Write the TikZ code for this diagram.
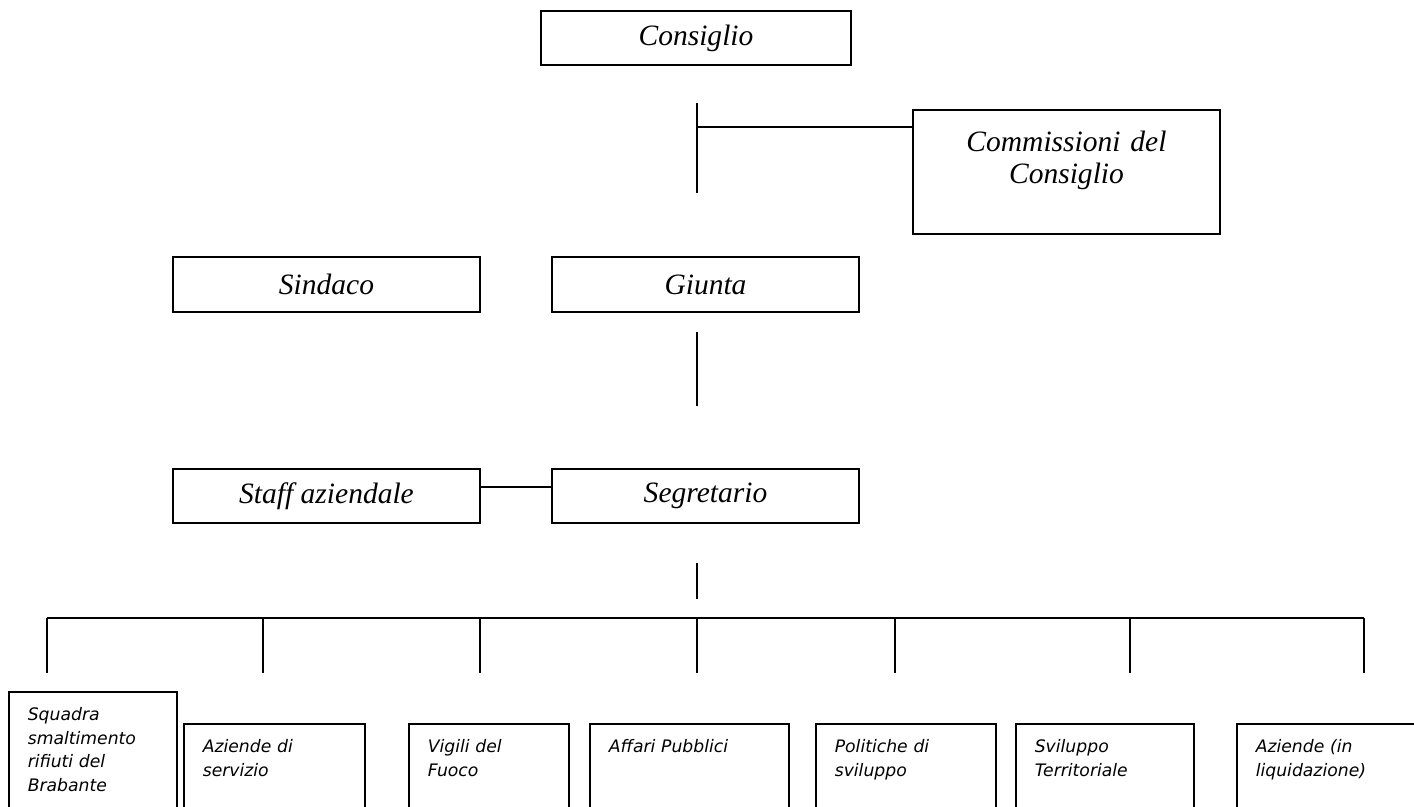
\documentclass[tikz,border=0pt]{standalone}
\usepackage{fontspec}
\setmainfont{Liberation Serif}
\newfontfamily\unitface{DejaVu Sans}
\newcommand\orgfont{\fontsize{16.8pt}{18.1pt}\selectfont\itshape}
\newcommand\unitfont{\unitface\fontsize{9.8pt}{13.4pt}\selectfont\itshape}
\tikzset{
  link/.style={line width=0.85pt},
  orgbox/.style={draw, line width=0.9pt, inner sep=0pt, minimum width=6.14cm,
    minimum height=1.1cm, font=\orgfont},
  unitbox/.style={draw, line width=0.9pt, anchor=north west, inner xsep=0.38cm,
    inner ysep=0pt, align=left, font=\unitfont, text height=0.58cm, text depth=2cm},
}
\begin{document}
\begin{tikzpicture}[x=0.02cm, y=-0.02cm]
      \useasboundingbox (0,0) rectangle (1414,807);
      % organi
      \node[orgbox, minimum width=6.2cm, minimum height=1.08cm] (consiglio) at (696,38) {Consiglio};
      \node[draw, line width=0.9pt, anchor=north, inner sep=0pt, text width=6.14cm,
        align=center, text height=0.84cm, text depth=1.64cm, font=\orgfont]
        (commissioni) at (1066.5,109) {Commissioni del\\Consiglio};
      \node[orgbox] (sindaco) at (326.5,284.5) {Sindaco};
      \node[orgbox] (giunta) at (705.5,284.5) {Giunta};
      \node[orgbox, minimum height=1.08cm] (staff) at (326.5,496) {Staff aziendale};
      \node[orgbox, minimum height=1.08cm] (segretario) at (705.5,496) {Segretario};
      % settori
      \node[unitbox, text width=2.6cm] (squadra) at (8,691) {Squadra\\smaltimento\\rifiuti del\\Brabante};
      \node[unitbox, text width=2.86cm] (servizio) at (183,723) {Aziende di\\servizio};
      \node[unitbox, text width=2.44cm] (vigili) at (408,723) {Vigili del\\Fuoco};
      \node[unitbox, text width=3.22cm] (affari) at (589,723) {Affari Pubblici};
      \node[unitbox, text width=2.84cm] (politiche) at (815,723) {Politiche di\\sviluppo};
      \node[unitbox, text width=2.8cm] (territorio) at (1015,723) {Sviluppo\\Territoriale};
      \node[unitbox, text width=3.04cm] (liquidazione) at (1236,723) {Aziende (in\\liquidazione)};
      % linee
      \coordinate (c1) at (697,103);
      \coordinate (c2) at (697,193);
      \coordinate (c3) at (697,127);
      \coordinate (g1) at (697,332);
      \coordinate (g2) at (697,406);
      \coordinate (s1) at (697,563);
      \coordinate (s2) at (697,599);
      \begin{scope}[link]
        \draw (c1) to (c2);
        \draw (c3) to (c3 -| commissioni.west);
        \draw (g1) to (g2);
        \draw ([yshift=0.18cm]staff.east) to ([yshift=0.18cm]segretario.west);
        \draw (s1) to (s2);
        \foreach \x [count=\i] in {47,263,480,697,895,1130,1364} {
          \coordinate (top\i) at (\x,618);
          \coordinate (bot\i) at (\x,673);
          \draw (top\i) to (bot\i);
        }
        \draw (top1) to (top7);
      \end{scope}
    \end{tikzpicture}
\end{document}
